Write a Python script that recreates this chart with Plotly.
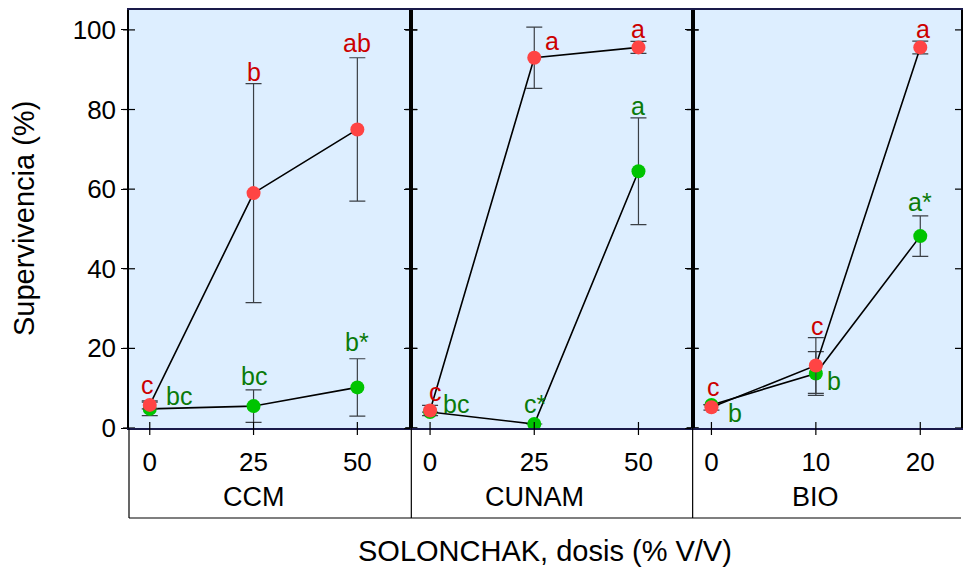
import plotly.graph_objects as go
from plotly.subplots import make_subplots

# Groups and doses (% V/V) of SOLONCHAK
groups = ["CCM", "CUNAM", "BIO"]
doses = {
    "CCM": ["0", "25", "50"],
    "CUNAM": ["0", "25", "50"],
    "BIO": ["0", "10", "20"],
}

# Survival (%) mean and error per group, red series
red_mean = {"CCM": [5.8, 59.0, 75.0], "CUNAM": [4.4, 93.0, 95.6], "BIO": [5.2, 15.7, 95.6]}
red_err = {"CCM": [1.0, 27.5, 18.0], "CUNAM": [1.3, 7.7, 1.5], "BIO": [0.7, 7.0, 1.6]}
red_letters = {"CCM": ["c", "b", "ab"], "CUNAM": ["c", "a", "a"], "BIO": ["c", "c", "a"]}

# Survival (%) mean and error per group, green series
green_mean = {"CCM": [4.8, 5.5, 10.2], "CUNAM": [4.0, 1.0, 64.5], "BIO": [5.8, 13.7, 48.2]}
green_err = {"CCM": [1.7, 4.1, 7.2], "CUNAM": [0.0, 0.0, 13.4], "BIO": [0.0, 5.5, 5.1]}
green_letters = {"CCM": ["bc", "bc", "b*"], "CUNAM": ["bc", "c*", "a"], "BIO": ["b", "b", "a*"]}

y_ticks = [0, 20, 40, 60, 80, 100]

RED, GREEN = "#ff4444", "#00c400"
RED_TXT, GREEN_TXT = "#cc0000", "#0a7a0a"
BG = "#ddeeff"
FONT = "Liberation Sans, Arial, sans-serif"
LETTER_SIZE = 25

# label placement per group/series/point: (anchor, xshift, yshift)
#   "top" -> above the error bar, "pt" -> beside the point
red_pos = {
    "CCM": [("pt", -2, 20), ("top", 0, 0), ("top", 0, 3)],
    "CUNAM": [("pt", 5, 18), ("pt", 18, 17), ("top", 0, 0)],
    "BIO": [("pt", 2, 20), ("top", 2, 0), ("top", 3, 0)],
}
green_pos = {
    "CCM": [("pt", 29, 13), ("top", 0, 2), ("top", 0, 5)],
    "CUNAM": [("pt", 26, 8), ("pt", 1, 20), ("top", 0, 0)],
    "BIO": [("pt", 24, -8), ("pt", 18, -8), ("top", 0, 2)],
}

fig = make_subplots(rows=1, cols=3, shared_yaxes=False, horizontal_spacing=0)

x_ranges = [[-0.2, 2.52], [-0.18, 2.52], [-0.18, 2.39]]
widths = [283, 282, 269]
tot = sum(widths)
doms = []
acc = 0
for w in widths:
    doms.append([acc / tot, (acc + w) / tot])
    acc += w

for i, g in enumerate(groups):
    col = i + 1
    for mean, err, color in ((green_mean, green_err, GREEN), (red_mean, red_err, RED)):
        fig.add_trace(
            go.Scatter(
                x=doses[g], y=mean[g], mode="lines+markers",
                line=dict(color="black", width=1.6),
                marker=dict(color=color, size=14),
                error_y=dict(type="data", array=err[g], visible=True,
                             color="#3a3f45", thickness=1.2, width=8),
                showlegend=False, hoverinfo="skip",
            ),
            row=1, col=col,
        )

    xa = "xaxis" if i == 0 else f"xaxis{col}"
    ya = "yaxis" if i == 0 else f"yaxis{col}"
    xr = "x" if i == 0 else f"x{col}"
    yr = "y" if i == 0 else f"y{col}"
    fig.layout[xa].update(
        type="category", categoryorder="array", categoryarray=doses[g],
        range=x_ranges[i], domain=doms[i],
        showline=True, linecolor="#1a1a4a", linewidth=2, mirror=True,
        showgrid=False, zeroline=False, ticks="",
        ticklabelstandoff=10,
        tickfont=dict(family=FONT, size=26, color="black"),
    )
    fig.layout[ya].update(
        range=[0, 105], showgrid=False, zeroline=False,
        showline=True, linecolor="black", linewidth=1.5, mirror=True,
        tickvals=y_ticks, ticks="outside", ticklen=6, tickcolor="black",
        showticklabels=(i == 0),
        tickfont=dict(family=FONT, size=26, color="black"),
    )

    # crossing tick marks on panel edges and dose positions
    for v in y_ticks:
        for edge in (0, 1):
            fig.add_shape(type="line", xref=f"{xr} domain", yref=yr,
                          xsizemode="pixel", xanchor=edge, x0=-6, x1=6,
                          y0=v, y1=v, line=dict(color="black", width=1.2))
    for k in range(len(doses[g])):
        fig.add_shape(type="line", xref=xr, yref=f"{yr} domain",
                      ysizemode="pixel", yanchor=0, y0=-7, y1=6,
                      x0=k, x1=k, line=dict(color="black", width=1.2))

    # group label in the box under the panel
    fig.add_annotation(x=1, y=0, xref=xr, yref=f"{yr} domain",
                       text=g, showarrow=False, yanchor="middle", yshift=-69,
                       font=dict(family=FONT, size=27, color="black"))

    # box divider lines below the plot
    fig.add_shape(type="line", xref=f"{xr} domain", yref="paper",
                  ysizemode="pixel", yanchor=0, y0=0, y1=-90,
                  x0=0, x1=0, line=dict(color="black", width=1.2))

    # significance letters
    for letters, mean, err, pos, tc in (
        (green_letters, green_mean, green_err, green_pos, GREEN_TXT),
        (red_letters, red_mean, red_err, red_pos, RED_TXT),
    ):
        for j, txt in enumerate(letters[g]):
            mode, xs, ys = pos[g][j]
            if mode == "top":
                yv = mean[g][j] + err[g][j]
                fig.add_annotation(x=j, y=yv, xref=xr, yref=yr, text=txt,
                                   showarrow=False, yanchor="bottom", xshift=xs, yshift=ys - 4,
                                   font=dict(family=FONT, size=LETTER_SIZE, color=tc))
            else:
                fig.add_annotation(x=j, y=mean[g][j], xref=xr, yref=yr, text=txt,
                                   showarrow=False, xshift=xs, yshift=ys,
                                   font=dict(family=FONT, size=LETTER_SIZE, color=tc))

# bottom line of the box
fig.add_shape(type="line", xref="paper", yref="paper", ysizemode="pixel", yanchor=0,
              x0=0, x1=1, y0=-90, y1=-90, line=dict(color="black", width=1.2))

fig.add_annotation(x=0.5, y=0, xref="paper", yref="paper", yanchor="middle", yshift=-123,
                   text="SOLONCHAK, dosis (% V/V)", showarrow=False,
                   font=dict(family=FONT, size=29, color="black"))
fig.add_annotation(x=0, y=0.5, xref="paper", yref="paper", xanchor="center", xshift=-105,
                   text="Supervivencia (%)", textangle=-90, showarrow=False,
                   font=dict(family=FONT, size=29, color="black"))

fig.update_layout(
    width=963, height=569,
    margin=dict(l=129, r=0, t=10, b=141),
    paper_bgcolor="white", plot_bgcolor=BG,
    font=dict(family=FONT, color="black"),
)

fig.write_html("out.html")
